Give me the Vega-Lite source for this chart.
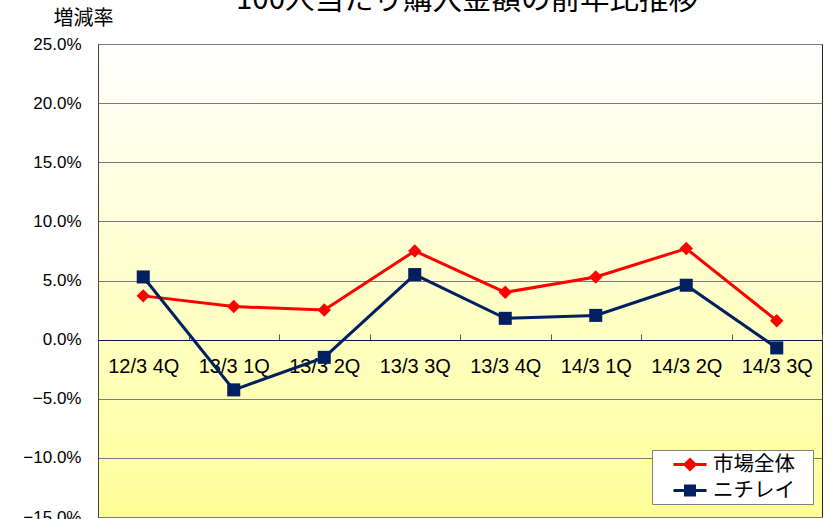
{
  "$schema": "https://vega.github.io/schema/vega-lite/v6.json",
  "width": 724,
  "height": 473,
  "autosize": {"type": "none"},
  "padding": {"left": 98, "top": 44, "right": 10, "bottom": 2},
  "background": "white",
  "title": {"text": "100人当たり購入金額の前年比推移", "fontSize": 29.5, "font": "Noto Sans CJK JP", "fontWeight": "normal", "color": "#000", "anchor": "middle", "offset": 0, "dx": 7, "dy": 30, "baseline": "alphabetic"},
  "config": {
    "font": "Noto Sans CJK JP",
    "view": {"stroke": "#222", "strokeWidth": 1, "fill": {"gradient": "linear", "x1": 0, "y1": 0, "x2": 0, "y2": 1, "stops": [{"offset": 0, "color": "#FFFFFF"}, {"offset": 1, "color": "#FFFF99"}]}}
  },
  "data": {"values": [
    {"q": "12/3 4Q", "series": "市場全体", "value": 3.7},
    {"q": "13/3 1Q", "series": "市場全体", "value": 2.8},
    {"q": "13/3 2Q", "series": "市場全体", "value": 2.5},
    {"q": "13/3 3Q", "series": "市場全体", "value": 7.5},
    {"q": "13/3 4Q", "series": "市場全体", "value": 4.0},
    {"q": "14/3 1Q", "series": "市場全体", "value": 5.3},
    {"q": "14/3 2Q", "series": "市場全体", "value": 7.7},
    {"q": "14/3 3Q", "series": "市場全体", "value": 1.6},
    {"q": "12/3 4Q", "series": "ニチレイ", "value": 5.3},
    {"q": "13/3 1Q", "series": "ニチレイ", "value": -4.25},
    {"q": "13/3 2Q", "series": "ニチレイ", "value": -1.5},
    {"q": "13/3 3Q", "series": "ニチレイ", "value": 5.5},
    {"q": "13/3 4Q", "series": "ニチレイ", "value": 1.8},
    {"q": "14/3 1Q", "series": "ニチレイ", "value": 2.05},
    {"q": "14/3 2Q", "series": "ニチレイ", "value": 4.6},
    {"q": "14/3 3Q", "series": "ニチレイ", "value": -0.7}
  ]},
  "encoding": {
    "x": {"field": "q", "type": "nominal", "sort": null,
      "axis": {"title": null, "orient": "bottom", "offset": -177, "domainColor": "#002060", "domainWidth": 1, "tickBand": "extent", "tickSize": -6, "tickColor": "#555", "labelFont": "Liberation Sans", "labelFontSize": 20, "labelColor": "#000", "labelAngle": 0, "labelPadding": 22, "grid": false}},
    "y": {"field": "value", "type": "quantitative", "scale": {"domain": [-15, 25], "nice": false},
      "axis": {"title": "増減率", "titleAngle": 0, "titleX": -15, "titleY": -26, "titleAlign": "center", "titleBaseline": "middle", "titleFont": "Noto Sans CJK JP", "titleFontSize": 20, "titleFontWeight": "normal", "titleColor": "#000", "values": [-15, -10, -5, 0, 5, 10, 15, 20, 25], "labelExpr": "format(datum.value, '.1f') + '%'", "labelFont": "Liberation Sans", "labelFontSize": 17, "labelColor": "#000", "labelPadding": 17, "ticks": false, "domainColor": "#444", "gridColor": "#7a7a7a", "gridWidth": 1, "labelOverlap": false, "labelFlush": false}},
    "color": {"field": "series", "type": "nominal", "scale": {"domain": ["市場全体", "ニチレイ"], "range": ["#FF0000", "#002060"]},
      "legend": {"title": null, "orient": "none", "legendX": 554, "legendY": 406, "fillColor": "white", "strokeColor": "#7f7f7f", "padding": 3, "symbolOffset": 23.5, "labelFont": "Noto Sans CJK JP", "labelFontSize": 20.5, "labelColor": "#000", "labelExpr": "datum.label + '\u2800'", "symbolSize": 400, "symbolStrokeWidth": 3, "rowPadding": 3, "labelOffset": 11.5,
        "encode": {"symbols": {"update": {
          "shape": [{"test": "datum.value === '市場全体'", "value": "M-1.65,0H1.65M0,-0.5L0.5,0L0,0.5L-0.5,0Z"}, {"value": "M-1.65,0H1.65M-0.45,-0.45H0.45V0.45H-0.45Z"}],
          "fill": [{"test": "datum.value === '市場全体'", "value": "#FF0000"}, {"value": "#002060"}],
          "stroke": [{"test": "datum.value === '市場全体'", "value": "#FF0000"}, {"value": "#002060"}],
          "strokeWidth": {"value": 3}
        }}}}}
  },
  "layer": [
    {"mark": {"type": "line", "strokeWidth": 3}},
    {"transform": [{"filter": "datum.series === '市場全体'"}],
      "mark": {"type": "point", "shape": "diamond", "filled": true, "opacity": 1, "size": 180}},
    {"transform": [{"filter": "datum.series === 'ニチレイ'"}],
      "mark": {"type": "point", "shape": "square", "filled": true, "opacity": 1, "size": 170}}
  ]
}
